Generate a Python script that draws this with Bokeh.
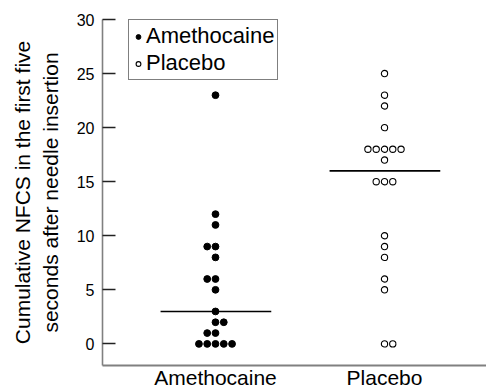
import numpy as np
from bokeh.plotting import figure
from bokeh.models import FixedTicker, Range1d, Legend, LegendItem
from bokeh.embed import file_html
from bokeh.resources import INLINE

# ---- data ----
categories = ["Amethocaine", "Placebo"]
amethocaine = [23, 12, 11, 9, 9, 8, 6, 6, 5, 3, 2, 2, 1, 1, 0, 0, 0, 0, 0]
placebo = [25, 23, 22, 20, 18, 18, 18, 18, 18, 17, 15, 15, 15, 10, 9, 8, 6, 5, 0, 0]
y_ticks = [0, 5, 10, 15, 20, 25, 30]
y_label = "Cumulative NFCS in the first five\nseconds after needle insertion"

FONT = "Liberation Sans"
STEP = 0.049  # horizontal spacing between tied dots (data units)


def swarm(values, center, lean_left=()):
    """Spread tied values side by side around the category centre."""
    xs, ys = [], []
    for v in sorted(set(values), reverse=True):
        n = values.count(v)
        base = [k - n // 2 for k in range(n)]
        if n % 2 == 0 and v not in lean_left:
            base = [o + 1 for o in base]
        for o in base:
            xs.append(center + o * STEP)
            ys.append(v)
    return xs, ys


p = figure(width=486, height=391, output_backend="svg", toolbar_location=None,
           x_range=Range1d(0.3314, 2.6036), y_range=Range1d(-2, 30),
           min_border_left=102, min_border_right=0, min_border_top=19,
           min_border_bottom=24)
p.outline_line_color = None
p.xgrid.grid_line_color = None
p.ygrid.grid_line_color = None
p.background_fill_color = "white"
p.border_fill_color = "white"

ax, ay = swarm(amethocaine, 1, lean_left=(9, 6, 1))
px, py = swarm(placebo, 2)

r1 = p.scatter(ax, ay, marker="circle", size=6.8, fill_color="black", line_color="black")
r2 = p.scatter(px, py, marker="circle", size=6.3, fill_color="white",
               line_color="black", line_width=1.1)

# medians
for c, vals in ((1, amethocaine), (2, placebo)):
    m = float(np.median(vals))
    p.segment(x0=[c - 0.325], y0=[m], x1=[c + 0.33], y1=[m], line_color="black", line_width=1.6)

# y axis
p.yaxis.ticker = FixedTicker(ticks=y_ticks)
p.yaxis.major_tick_in = 13
p.yaxis.major_tick_out = 0
p.yaxis.minor_tick_line_color = None
p.yaxis.major_tick_line_color = "#222222"
p.yaxis.major_tick_line_width = 1.3
p.yaxis.axis_line_color = "#808080"
p.yaxis.axis_line_width = 1.6
p.yaxis.major_label_standoff = 8
p.yaxis.major_label_text_font = FONT
p.yaxis.major_label_text_font_size = "16px"
p.yaxis.major_label_text_color = "black"
p.yaxis.axis_label = y_label
p.yaxis.axis_label_text_font = FONT
p.yaxis.axis_label_text_font_size = "21px"
p.yaxis.axis_label_text_font_style = "normal"
p.yaxis.axis_label_text_color = "black"
p.yaxis.axis_label_standoff = 12

# x axis
p.xaxis.ticker = FixedTicker(ticks=[1, 2])
p.xaxis.major_label_overrides = {1: categories[0], 2: categories[1]}
p.xaxis.major_tick_in = 0
p.xaxis.major_tick_out = 0
p.xaxis.minor_tick_line_color = None
p.xaxis.axis_line_color = "#808080"
p.xaxis.axis_line_width = 2
p.xaxis.major_label_standoff = 0
p.xaxis.major_label_text_font = FONT
p.xaxis.major_label_text_font_size = "21px"
p.xaxis.major_label_text_color = "black"

legend = Legend(items=[LegendItem(label="Amethocaine", renderers=[r1]),
                       LegendItem(label="Placebo", renderers=[r2])],
                location=(26, 285), orientation="vertical",
                glyph_width=12, glyph_height=13, label_height=21,
                label_standoff=2, spacing=1, padding=3, margin=0,
                border_line_color="black", border_line_width=1,
                background_fill_color="white", background_fill_alpha=1,
                label_text_font=FONT, label_text_font_size="22px",
                label_text_color="black")
p.add_layout(legend, "center")

open("out.html", "w").write(file_html(p, INLINE))
